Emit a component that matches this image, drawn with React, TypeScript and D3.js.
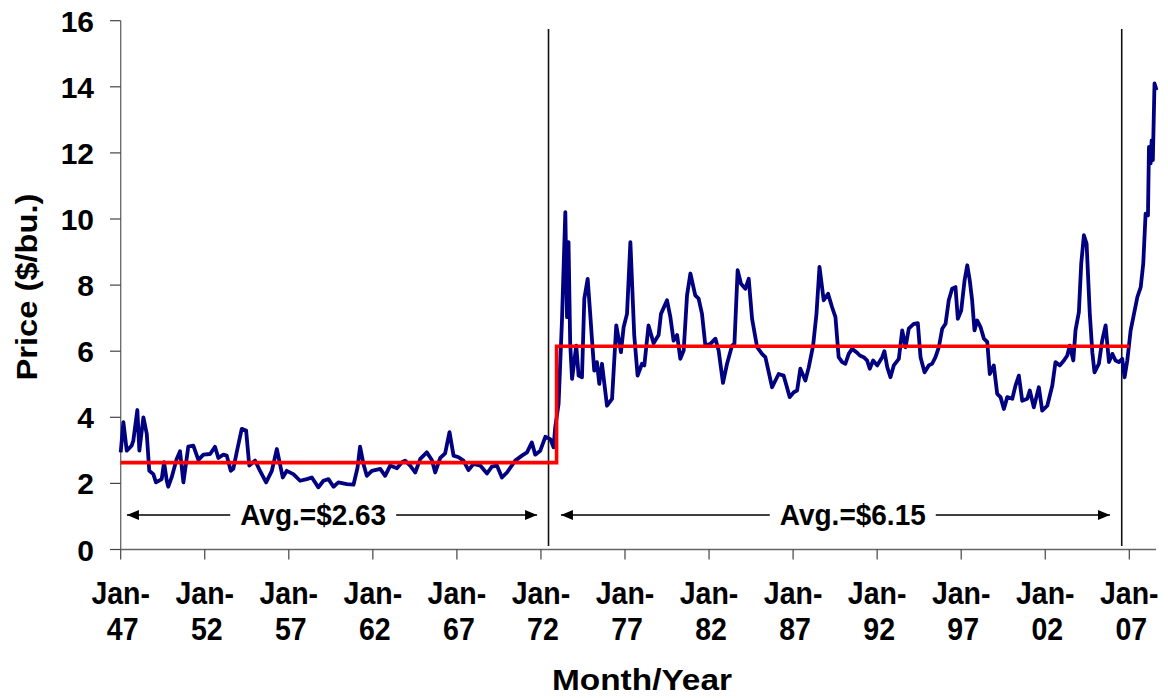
import React from "react";
import * as d3 from "d3";

// monthly soybean price. x = years since Jan-47
const yearsSince47 = [
  0.0, 0.16, 0.36, 0.65, 0.75, 0.99, 1.11, 1.35, 1.55, 1.7, 1.94, 2.1, 2.44, 2.58, 2.74, 2.83, 3.03, 3.33, 3.53, 3.73,
  4.02, 4.32, 4.62, 4.92, 5.32, 5.61, 5.81, 6.11, 6.31, 6.55, 6.7, 6.9, 7.2, 7.46, 7.65, 7.99, 8.29, 8.65, 8.99, 9.29,
  9.64, 9.88, 10.27, 10.67, 11.07, 11.37, 11.76, 12.06, 12.36, 12.66, 12.95, 13.45, 13.85, 14.09, 14.24, 14.44, 14.64,
  14.94, 15.44, 15.73, 16.03, 16.43, 16.73, 16.92, 17.22, 17.52, 17.82, 18.21, 18.51, 18.71, 19.01, 19.3, 19.56, 19.8,
  20.1, 20.39, 20.69, 20.99, 21.39, 21.79, 22.08, 22.38, 22.68, 22.98, 23.47, 23.87, 24.17, 24.46, 24.66, 24.96, 25.26,
  25.56, 25.75,
  25.85, 26.05, 26.25, 26.45, 26.55, 26.64, 26.74, 26.85, 27.1, 27.24, 27.44, 27.58, 27.78, 27.93, 28.04, 28.17, 28.33,
  28.47, 28.63, 28.93, 29.23, 29.48, 29.76, 29.92, 30.12, 30.32, 30.55, 30.75, 31.01, 31.15, 31.4, 31.7, 32.0, 32.14,
  32.5, 32.7, 32.89, 33.1, 33.29, 33.49, 33.69, 33.89, 34.18, 34.38, 34.58, 34.78, 35.08, 35.38, 35.57, 35.83, 36.07,
  36.37, 36.51, 36.7, 36.9, 37.16, 37.36, 37.56, 37.86, 38.15, 38.35, 38.75, 39.14, 39.44, 39.8, 40.04, 40.24, 40.43,
  40.73, 40.93, 41.19, 41.39, 41.57, 41.82, 42.08, 42.32, 42.52, 42.71,
  42.92, 43.11, 43.31, 43.51, 43.77, 43.97, 44.2, 44.4, 44.56, 44.76, 45.0, 45.3, 45.43, 45.6, 45.79, 45.99, 46.29,
  46.49, 46.69, 46.88, 47.18, 47.42, 47.58, 47.82, 48.07, 48.27, 48.47, 48.67, 48.87, 49.07, 49.26, 49.46, 49.66, 49.8,
  50.0, 50.2, 50.36, 50.51, 50.65, 50.79, 50.95, 51.15, 51.35, 51.55, 51.7, 51.94, 52.14, 52.34, 52.54, 52.74, 53.04,
  53.23, 53.43, 53.63, 53.93, 54.08, 54.32, 54.62, 54.82, 55.12, 55.42, 55.61, 55.87, 56.11, 56.31, 56.46, 56.67, 56.8,
  57.0, 57.14, 57.3, 57.46, 57.65, 57.8, 57.93, 58.19, 58.39, 58.59, 58.79, 58.99, 59.18, 59.38, 59.58, 59.72, 59.88,
  60.08, 60.24, 60.48, 60.68, 60.83, 60.97, 61.11, 61.17, 61.27, 61.33, 61.4, 61.5, 61.62,
];

const prices = [
  2.94, 3.85, 2.99, 3.14, 3.29, 4.22, 2.99, 4.0, 3.5, 2.38, 2.28, 2.03, 2.13, 2.64, 2.08, 1.9, 2.18, 2.74, 2.97, 2.03,
  3.11, 3.14, 2.71, 2.87, 2.89, 3.11, 2.77, 2.87, 2.84, 2.38, 2.44, 2.94, 3.65, 3.6, 2.54, 2.69, 2.38, 2.03, 2.38, 3.04,
  2.18, 2.38, 2.28, 2.08, 2.13, 2.18, 1.88, 2.08, 2.13, 1.9, 2.03, 1.98, 1.96, 2.48, 3.11, 2.59, 2.23,
  2.38, 2.44, 2.23, 2.54, 2.46, 2.64, 2.69, 2.54, 2.33, 2.74, 2.94, 2.71, 2.33, 2.77, 2.91, 3.55, 2.84,
  2.79, 2.69, 2.4, 2.59, 2.54, 2.3, 2.51, 2.54, 2.18, 2.33, 2.69, 2.84, 2.94, 3.24, 2.87, 2.99, 3.41,
  3.34, 3.09,
  3.7, 4.41, 6.93, 10.21, 7.03, 9.3, 6.22, 5.16, 6.17, 5.26, 5.21, 7.59, 8.19, 7.13, 6.32, 5.41, 5.67,
  5.01, 5.62, 4.35, 4.56, 6.78, 5.97, 6.73, 7.13, 9.3, 6.48, 5.26, 5.62, 5.57, 6.78, 6.24, 6.49, 7.13,
  7.54, 7.03, 6.32, 6.49, 5.77, 6.02, 7.69, 8.35, 7.69, 7.59, 7.13, 6.17, 6.22, 6.38, 6.02, 5.04, 5.62,
  6.17, 6.22, 8.45, 8.04, 7.89, 8.19, 6.98, 6.12, 5.92, 5.82, 4.91, 5.31, 5.26, 4.61, 4.76, 4.81, 5.47,
  5.11, 5.51, 6.17, 7.13, 8.55, 7.54, 7.74, 7.33, 7.03, 5.82,
  5.67, 5.62, 5.92, 6.07, 5.97, 5.87, 5.82, 5.72, 5.47, 5.72, 5.57, 5.82, 6.0, 5.52, 5.21, 5.57, 5.77,
  6.63, 6.12, 6.68, 6.83, 6.85, 5.82, 5.36, 5.57, 5.62, 5.82, 6.12, 6.68, 6.83, 7.54, 7.89, 7.94, 6.98,
  7.23, 8.14, 8.6, 8.14, 7.54, 6.63, 6.93, 6.73, 6.38, 6.28, 5.31, 5.57, 4.71, 4.61, 4.25, 4.61, 4.56,
  4.96, 5.26, 4.5, 4.56, 4.81, 4.3, 4.91, 4.2, 4.35, 4.96, 5.67, 5.57, 5.72, 5.87, 6.17, 5.72, 6.63,
  7.18, 8.65, 9.51, 9.25, 7.13, 5.97, 5.36, 5.62, 6.33, 6.78, 5.67, 5.92, 5.72, 5.67, 5.77, 5.21, 5.72,
  6.63, 7.03, 7.64, 7.94, 8.65, 10.16, 10.11, 12.18, 11.68, 12.38, 11.78, 14.1, 13.9,
];

// period averages (step line)
const avgStepX = [0, 25.93, 25.93, 60.0];
const avgStepY = [2.63, 2.63, 6.15, 6.15];

// period boundaries (black verticals)
const periodMarks = [25.45, 59.55];

// annotation arrows
const arrowFrom = [0.37, 26.19];
const arrowTo = [24.77, 58.85];
const arrowTextAt = [11.45, 43.55];
const arrowTexts = ["Avg.=$2.63", "Avg.=$6.15"];

const xTicks = [0, 5, 10, 15, 20, 25, 30, 35, 40, 45, 50, 55, 60];
const xTickLabels = ["47", "52", "57", "62", "67", "72", "77", "82", "87", "92", "97", "02", "07"];
const yTicks = [0, 2, 4, 6, 8, 10, 12, 14, 16];

const W = 1168;
const H = 698;
const font = "'Liberation Sans', Arial, Helvetica, sans-serif";

export default function App() {
  const x = d3.scaleLinear().domain([0, 60]).range([120.7, 1129.3]);
  const y = d3.scaleLinear().domain([0, 16]).range([549.5, 20.7]);
  const xEnd = 1156;

  const pts = yearsSince47.map((t, i) => [t, prices[i]] as [number, number]);
  const priceLine = d3
    .line<[number, number]>()
    .x((d) => x(d[0]))
    .y((d) => y(d[1]));

  const avgLine = d3
    .line<number>()
    .x((d) => x(avgStepX[d]))
    .y((d) => y(avgStepY[d]));

  const arrowY = 515;
  const textHalf = 75;
  const gap = 8;

  return (
    <svg
      width={W}
      height={H}
      style={{ position: "absolute", left: 0, top: 0, background: "#fff" }}
      fontFamily={font}
      fontWeight="bold"
    >
      <defs>
        <marker id="ah" viewBox="0 0 12 10" refX="12" refY="5" markerWidth="12" markerHeight="10" markerUnits="userSpaceOnUse" orient="auto-start-reverse">
          <path d="M0,0 L12,5 L0,10 Z" fill="#000" />
        </marker>
      </defs>

      {/* y axis */}
      <line x1={120.7} x2={120.7} y1={y(16)} y2={y(0)} stroke="#666" strokeWidth={1.3} />
      {yTicks.map((v) => (
        <g key={v}>
          <line x1={110} x2={120.7} y1={y(v)} y2={y(v)} stroke="#444" strokeWidth={1.2} />
          <text x={94} y={y(v) + 11} textAnchor="end" fontSize={30}>
            {v}
          </text>
        </g>
      ))}

      {/* x axis */}
      <line x1={120.7} x2={xEnd} y1={y(0)} y2={y(0)} stroke="#666" strokeWidth={1.3} />
      {xTicks.map((t, i) => (
        <g key={t}>
          <line x1={x(t)} x2={x(t)} y1={y(0)} y2={y(0) + 10} stroke="#444" strokeWidth={1.2} />
          <text transform={`translate(${x(t)},604) scale(1,1.07)`} textAnchor="middle" fontSize={28.5}>
            Jan-
          </text>
          <text transform={`translate(${x(t) + 2},640) scale(1,1.07)`} textAnchor="middle" fontSize={28.5}>
            {xTickLabels[i]}
          </text>
        </g>
      ))}

      {/* period boundaries */}
      {periodMarks.map((t) => (
        <line key={t} x1={x(t)} x2={x(t)} y1={29} y2={546} stroke="#111" strokeWidth={1.6} />
      ))}

      {/* price series */}
      <path d={priceLine(pts) ?? ""} fill="none" stroke="#000080" strokeWidth={3.8} strokeLinejoin="round" />

      {/* averages */}
      <path d={avgLine(d3.range(avgStepX.length)) ?? ""} fill="none" stroke="#ff0000" strokeWidth={3.6} />

      {/* arrows with labels */}
      {arrowTexts.map((label, i) => {
        const cx = x(arrowTextAt[i]);
        return (
          <g key={label}>
            <line
              x1={cx - textHalf - gap}
              x2={x(arrowFrom[i])}
              y1={arrowY}
              y2={arrowY}
              stroke="#000"
              strokeWidth={1.6}
              markerEnd="url(#ah)"
            />
            <line
              x1={cx + textHalf + gap}
              x2={x(arrowTo[i])}
              y1={arrowY}
              y2={arrowY}
              stroke="#000"
              strokeWidth={1.6}
              markerEnd="url(#ah)"
            />
            <text transform={`translate(${cx},${arrowY + 10}) scale(1,1.07)`} textAnchor="middle" fontSize={28}>
              {label}
            </text>
          </g>
        );
      })}

      {/* axis titles */}
      <text x={642} y={690} textAnchor="middle" fontSize={30} textLength={180} lengthAdjust="spacingAndGlyphs">
        Month/Year
      </text>
      <text
        transform="translate(37,287) rotate(-90)"
        textAnchor="middle"
        fontSize={30}
        textLength={187}
        lengthAdjust="spacingAndGlyphs"
      >
        Price ($/bu.)
      </text>
    </svg>
  );
}
